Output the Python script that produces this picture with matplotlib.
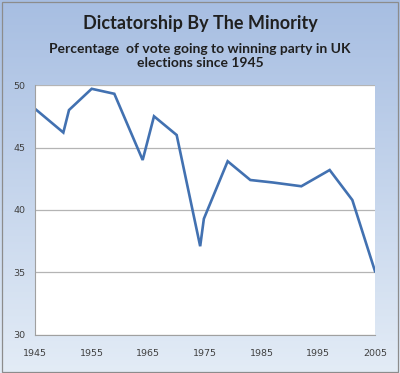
import numpy as np
import matplotlib
matplotlib.use("Agg")
import matplotlib.pyplot as plt
from matplotlib.patches import Rectangle

# election years (1974 had two elections)
years = [1945, 1950, 1951, 1955, 1959, 1964, 1966, 1970, 1974.15, 1974.8,
         1979, 1983, 1987, 1992, 1997, 2001, 2005]
vote_share = [48.1, 46.2, 48.0, 49.7, 49.3, 44.0, 47.5, 46.0, 37.1, 39.3,
              43.9, 42.4, 42.2, 41.9, 43.2, 40.8, 35.1]

x_ticks = [1945, 1955, 1965, 1975, 1985, 1995, 2005]
y_ticks = [30, 35, 40, 45, 50]

title = "Dictatorship By The Minority"
subtitle = "Percentage  of vote going to winning party in UK\nelections since 1945"

fig = plt.figure(figsize=(4.0, 3.73), dpi=100)

# gradient background
bg = fig.add_axes([0, 0, 1, 1])
grad = np.linspace(0, 1, 256).reshape(-1, 1)
top = np.array([0.655, 0.745, 0.886])
bot = np.array([0.890, 0.925, 0.965])
img = top[None, None, :] * (1 - grad[:, :, None]) + bot[None, None, :] * grad[:, :, None]
bg.imshow(img, aspect="auto", extent=[0, 1, 0, 1])
bg.add_patch(Rectangle((0.004, 0.004), 0.99, 0.99, transform=bg.transAxes,
                       fill=False, edgecolor="#8c8c8c", lw=0.9))
bg.set_axis_off()

ax = fig.add_axes([0.0875, 0.102, 0.85, 0.670])
ax.set_facecolor("white")
ax.plot(years, vote_share, color="#4271b1", lw=1.9, solid_joinstyle="miter")
ax.set_xlim(1945, 2005)
ax.set_ylim(30, 50)
ax.set_xticks(x_ticks)
ax.set_yticks(y_ticks)
ax.grid(axis="y", color="#b4b4b4", lw=0.9)
ax.set_axisbelow(True)
for s in ["top", "right"]:
    ax.spines[s].set_visible(False)
for s in ["left", "bottom"]:
    ax.spines[s].set_color("#a0a0a0")
ax.tick_params(length=0, labelsize=6.8, labelcolor="#404040")
ax.tick_params(axis="x", pad=10)
ax.tick_params(axis="y", pad=7)

fig.text(0.5, 0.938, title, ha="center", va="center", fontsize=13,
         family="Lato", fontweight="bold", color="#202020")
fig.text(0.5, 0.85, subtitle, ha="center", va="center", fontsize=10,
         family="Lato", fontweight="bold", color="#202020", linespacing=1.25)

fig.savefig("out.png", dpi=100)
